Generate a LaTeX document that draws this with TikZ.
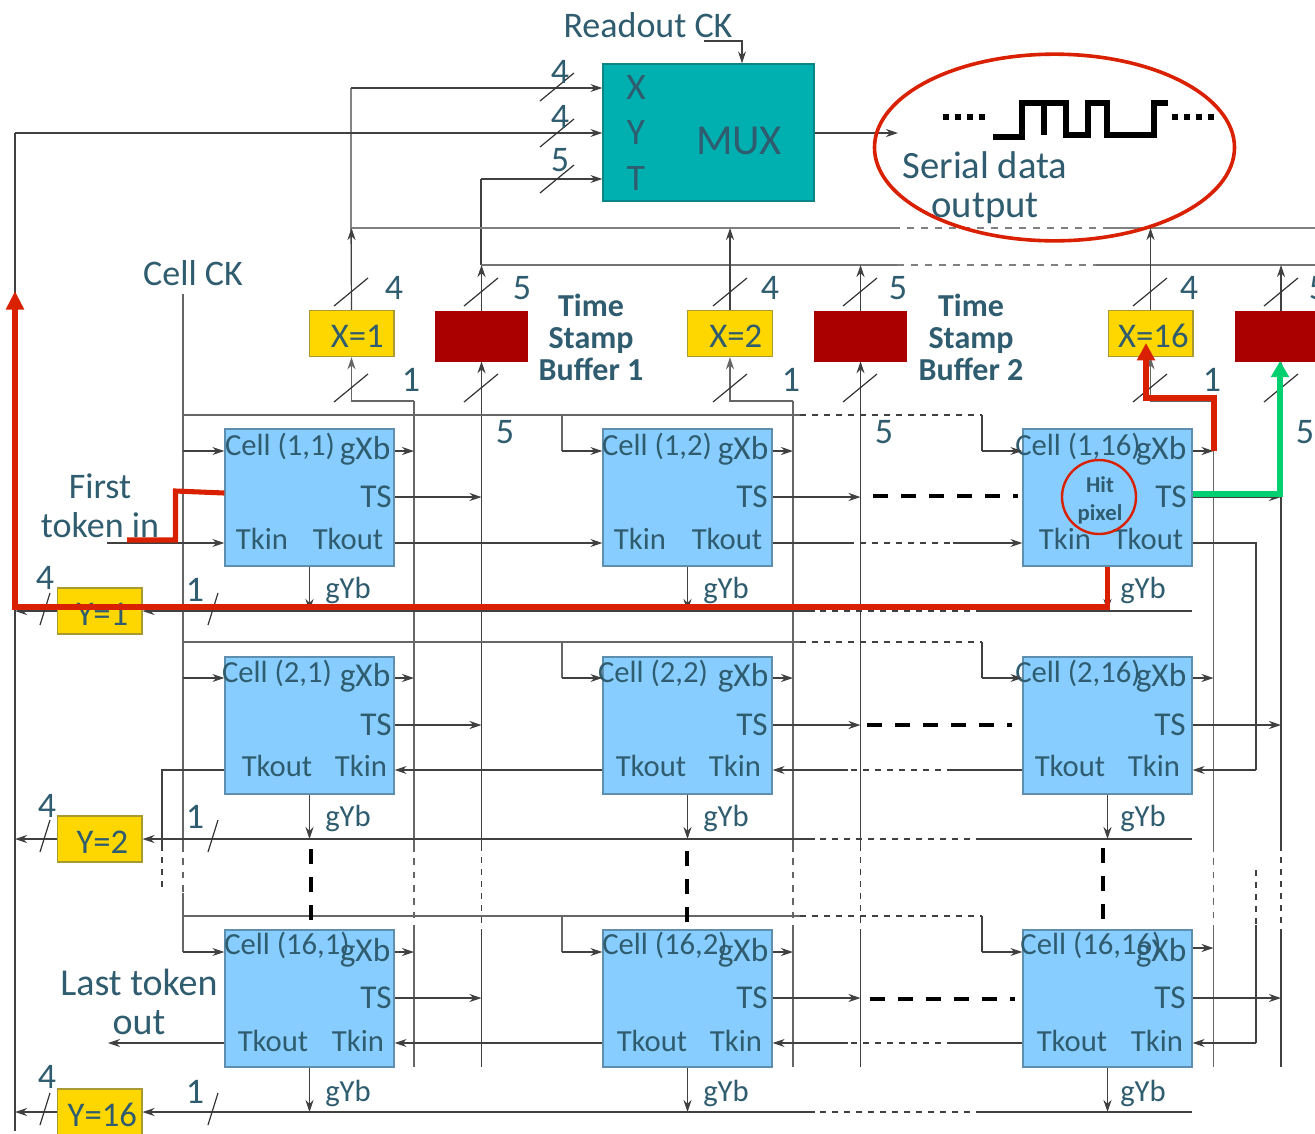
\documentclass[tikz,border=0pt]{standalone}
\usepackage{fontspec}
\setmainfont{Carlito}
\usepackage{xcolor}
\usetikzlibrary{arrows.meta,shapes.geometric}
\definecolor{inktxt}{HTML}{2F5C6E}
\definecolor{cellfill}{HTML}{87CDFF}
\definecolor{celledge}{HTML}{5F8FAE}
\definecolor{muxfill}{HTML}{00AFAF}
\definecolor{muxedge}{HTML}{0B8585}
\definecolor{goldfill}{HTML}{FFD700}
\definecolor{goldedge}{HTML}{A89A30}
\definecolor{buffill}{HTML}{AB0000}
\definecolor{hitred}{HTML}{D92000}
\definecolor{hitgreen}{HTML}{00D070}

\begin{document}
\begin{tikzpicture}[x=0.75pt,y=-0.75pt,
  lab/.style={font=\fontsize{23}{27}\selectfont,text=inktxt,inner sep=0pt},
  pin/.style={lab,font=\fontsize{25}{27}\selectfont},
  big/.style={lab,font=\fontsize{27}{29}\selectfont,align=center},
  num/.style={lab,font=\fontsize{27}{29}\selectfont},
  stamp/.style={lab,font=\fontsize{24}{24}\selectfont\bfseries,align=center},
  cell/.style={draw=celledge,fill=cellfill,line width=1pt,minimum width=126.75pt,minimum height=102.75pt,inner sep=0pt},
  xybox/.style={draw=goldedge,fill=goldfill,line width=1pt,minimum width=63.5pt,minimum height=34.5pt,inner sep=0pt,
              text=inktxt,font=\fontsize{26}{28}\selectfont,text height=21pt,text depth=0pt},
  bufbox/.style={draw=buffill,fill=buffill,minimum width=69pt,minimum height=37.5pt,inner sep=0pt},
  wire/.style={draw=black!75,line width=0.9pt},
  gwire/.style={draw=black!60,line width=1.4pt},
  bus/.style={draw=black!50,line width=1.9pt},
  gapw/.style={wire,dash pattern=on 4.5pt off 4.5pt},
  gapg/.style={gwire,dash pattern=on 5pt off 5pt},
  gapb/.style={bus,line width=1.6pt,dash pattern=on 5.5pt off 5pt},
  slash/.style={draw=black!80,line width=0.9pt},
  bdash/.style={draw=black,line width=3pt,dash pattern=on 11pt off 10pt},
  hitline/.style={draw=hitred,line width=3.8pt,line join=miter},
  >={Stealth[length=9pt,width=6pt]}]

\path[use as bounding box,clip] (0,0) rectangle (1315,1133);

% named levels and rails
\coordinate (ytop) at (15,133);   \coordinate (ybot) at (15,1131);
\coordinate (xbus) at (351,228);  \coordinate (tbus) at (481,265);
\coordinate (ckin) at (183,294);
\coordinate (ck1) at (183,415);   \coordinate (ck2) at (183,642);   \coordinate (ck3) at (183,916);
\coordinate (tap2) at (562,0);    \coordinate (tap3) at (982,0);
\coordinate (gapl) at (815,0);    \coordinate (gapr) at (982,0);
\coordinate (gapt) at (848,0);    \coordinate (gapu) at (953,0);
\coordinate (gx1) at (414,401);   \coordinate (gx2) at (793,401);   \coordinate (gx3) at (1213.5,401);
\coordinate (rtn) at (1256,0);
\coordinate (endr) at (1192,0);
\coordinate (tg1) at (0,451);     \coordinate (tg2) at (0,678);     \coordinate (tg3) at (0,952);
\coordinate (tt1) at (0,497);     \coordinate (tt2) at (0,725);     \coordinate (tt3) at (0,998);
\coordinate (tk1) at (0,543);     \coordinate (tk2) at (0,770);     \coordinate (tk3) at (0,1043);
\coordinate (vgap) at (0,845);    \coordinate (vgapb) at (0,930);

% wires to the mux
\node[draw=muxedge,fill=muxfill,line width=1pt,minimum width=158.25pt,minimum height=102.75pt] (mux) at (708.5,132.5) {};
\node[lab,font=\fontsize{28}{30}\selectfont] (mx) at (636,88) {X};
\node[lab,font=\fontsize{28}{30}\selectfont] (my) at (636,133) {Y};
\node[lab,font=\fontsize{28}{30}\selectfont] (mt) at (636,179) {T};
\node[lab,font=\fontsize{32}{34}\selectfont] (mname) at (739,141) {MUX};
\node[big,font=\fontsize{27}{29}\selectfont] (rock) at (648,25) {Readout CK};
\coordinate (rocka) at (704,41);
\coordinate (sout) at (898,133);
\draw[wire,->] (rocka) -| (mux.north -| 742,0);
\draw[wire,->] (mux.east |- sout) -- (sout);

\node[xybox] (x1) at (351.5,333.5) {\,\,X=1};
\node[xybox] (x2) at (730,333.5) {\,\,X=2};
\node[xybox] (x3) at (1150.5,333.5) {\,X=16};
\node[bufbox] (b1) at (481.5,336) {};
\node[bufbox] (b2) at (860.5,336) {};
\node[bufbox] (b3) at (1281,336) {};
\node[stamp] (tsb1) at (591,337) {Time\\Stamp\\Buffer 1};
\node[stamp] (tsb2) at (971,337) {Time\\Stamp\\Buffer 2};

\draw[wire] (x1.north) -- (xbus) -- (xbus |- mx);
\draw[wire,->] (xbus |- mx) -- (mux.west |- mx);
\draw[wire,->] (ytop) -- (mux.west |- ytop);
\draw[wire] (ytop) -- (ybot);
\draw[wire] (tbus) -- (tbus |- mt);
\draw[wire,->] (tbus |- mt) -- (mux.west |- mt);

% read-out buses
\draw[bus] (xbus) -- (893,228);
\draw[gapb] (893,228) -- (1103,228);
\draw[bus] (1103,228) -- (1315,228);
\draw[wire,line width=1.5pt,draw=black!55] (tbus) -- (897,265);
\draw[gapb] (897,265) -- (1096,265);
\draw[wire,line width=1.5pt,draw=black!55] (1096,265) -- (1315,265);
\draw[wire,->] (x1.north) -- (x1.north |- xbus);
\draw[wire,->] (b1.north) -- (b1.north |- tbus);
\draw[wire,->] (x2.north) -- (x2.north |- xbus);
\draw[wire,->] (b2.north) -- (b2.north |- tbus);
\draw[wire,->] (x3.north) -- (x3.north |- xbus);
\draw[wire,->] (b3.north) -- (b3.north |- tbus);

% column rails below the buffers
\draw[gwire,->] (gx1) -- (x1.south |- gx1) -- (x1.south);
\draw[gwire,->] (gx2) -- (x2.south |- gx2) -- (x2.south);
\draw[gwire,->] (gx3) -- (x3.south |- gx3) -- (x3.south);
\draw[wire,->] (b1.south |- vgap) -- (b1.south);
\draw[wire,->] (b2.south |- vgap) -- (b2.south);
\draw[wire,->] (b3.south |- vgap) -- (b3.south);
\draw[gwire] (gx1) -- (gx1 |- vgap);
\draw[gwire] (gx2) -- (gx2 |- vgap);
\draw[gwire] (gx3) -- (gx3 |- vgap);
\draw[gapg] (gx1 |- vgap) -- (gx1 |- vgapb);
\draw[gapg] (gx2 |- vgap) -- (gx2 |- vgapb);
\draw[gapg] (gx3 |- vgap) -- (gx3 |- vgapb);
\draw[gapw] (b1.south |- vgap) -- (b1.south |- vgapb);
\draw[gapw] (b2.south |- vgap) -- (b2.south |- vgapb);
\draw[gapw] (b3.south |- vgap) -- (b3.south |- vgapb);
\draw[gwire] (gx1 |- vgapb) -- (gx1 |- 0,1067);
\draw[gwire] (gx2 |- vgapb) -- (gx2 |- 0,1067);
\draw[gwire] (gx3 |- vgapb) -- (gx3 |- 0,1067);
\draw[wire] (b1.south |- vgapb) -- (b1.south |- 0,1067);
\draw[wire] (b2.south |- vgapb) -- (b2.south |- 0,1067);
\draw[wire] (b3.south |- vgapb) -- (b3.south |- 0,1067);

% cell clock
\draw[gwire] (ckin) -- (ckin |- vgap);
\draw[gapg] (ckin |- vgap) -- (ckin |- 0,893);
\draw[gwire] (ckin |- 0,893) -- (ckin |- tg3);
\draw[gwire] (ck1) -- (800,415);
\draw[gapw] (800,415) -- (tap3 |- ck1);
\draw[gwire] (ck2) -- (800,642);
\draw[gapw] (800,642) -- (tap3 |- ck2);
\draw[gwire] (ck3) -- (800,916);
\draw[gapw] (800,916) -- (tap3 |- ck3);
\draw[gwire] (tap2 |- ck1) -- (tap2 |- tg1);
\draw[gwire] (tap2 |- ck2) -- (tap2 |- tg2);
\draw[gwire] (tap2 |- ck3) -- (tap2 |- tg3);
\draw[wire] (tap3 |- ck1) -- (tap3 |- tg1);
\draw[wire] (tap3 |- ck2) -- (tap3 |- tg2);
\draw[wire] (tap3 |- ck3) -- (tap3 |- tg3);

% cells
\node[cell] (c11) at (309.5,497.5) {};
\node[cell] (c12) at (687.5,497.5) {};
\node[cell] (c1n) at (1107.5,497.5) {};
\node[cell] (c21) at (309.5,725.5) {};
\node[cell] (c22) at (687.5,725.5) {};
\node[cell] (c2n) at (1107.5,725.5) {};
\node[cell] (cn1) at (309.5,998.5) {};
\node[cell] (cn2) at (687.5,998.5) {};
\node[cell] (cnn) at (1107.5,998.5) {};

\node[lab] (l11) at (280,446) {Cell (1,1)}; \node[pin] (g11) at (365,451) {gXb}; \node[pin] (s11) at (376,497) {TS};
\node[lab] (i11) at (262,539) {Tkin}; \node[lab] (o11) at (348,539) {Tkout}; \node[lab] (y11) at (348,590) {gYb};
\node[lab] (l12) at (657,446) {Cell (1,2)}; \node[pin] (g12) at (743,451) {gXb}; \node[pin] (s12) at (752,497) {TS};
\node[lab] (i12) at (640,539) {Tkin}; \node[lab] (o12) at (727,539) {Tkout}; \node[lab] (y12) at (726,590) {gYb};
\node[lab] (l1n) at (1078,446) {Cell (1,16)}; \node[pin] (g1n) at (1161,451) {gXb}; \node[pin] (s1n) at (1171,497) {TS};
\node[lab] (i1n) at (1065,539) {Tkin}; \node[lab] (o1n) at (1148,539) {Tkout}; \node[lab] (y1n) at (1143,590) {gYb};

\node[lab] (l21) at (277,673) {Cell (2,1)}; \node[pin] (g21) at (365,678) {gXb}; \node[pin] (s21) at (376,725) {TS};
\node[lab] (o21) at (277,766) {Tkout}; \node[lab] (i21) at (361,766) {Tkin}; \node[lab] (y21) at (348,818) {gYb};
\node[lab] (l22) at (653,673) {Cell (2,2)}; \node[pin] (g22) at (743,678) {gXb}; \node[pin] (s22) at (752,725) {TS};
\node[lab] (o22) at (651,766) {Tkout}; \node[lab] (i22) at (735,766) {Tkin}; \node[lab] (y22) at (726,818) {gYb};
\node[lab] (l2n) at (1078,673) {Cell (2,16)}; \node[pin] (g2n) at (1161,678) {gXb}; \node[pin] (s2n) at (1170,725) {TS};
\node[lab] (o2n) at (1070,766) {Tkout}; \node[lab] (i2n) at (1154,766) {Tkin}; \node[lab] (y2n) at (1143,818) {gYb};

\node[lab] (ln1) at (287,945) {Cell (16,1)}; \node[pin] (gn1) at (365,953) {gXb}; \node[pin] (sn1) at (376,998) {TS};
\node[lab] (on1) at (273,1041) {Tkout}; \node[lab] (in1) at (358,1041) {Tkin}; \node[lab] (yn1) at (348,1093) {gYb};
\node[lab] (ln2) at (665,945) {Cell (16,2)}; \node[pin] (gn2) at (743,953) {gXb}; \node[pin] (sn2) at (752,998) {TS};
\node[lab] (on2) at (652,1041) {Tkout}; \node[lab] (in2) at (736,1041) {Tkin}; \node[lab] (yn2) at (726,1093) {gYb};
\node[lab] (lnn) at (1091,945) {Cell (16,16)}; \node[pin] (gnn) at (1161,953) {gXb}; \node[pin] (snn) at (1170,998) {TS};
\node[lab] (onn) at (1072,1041) {Tkout}; \node[lab] (inn) at (1157,1041) {Tkin}; \node[lab] (ynn) at (1143,1093) {gYb};

% clock taps into the cells
\draw[wire,->] (ckin |- tg1) -- (c11.west |- tg1);
\draw[wire,->] (ckin |- tg2) -- (c21.west |- tg2);
\draw[wire,->] (ckin |- tg3) -- (cn1.west |- tg3);
\draw[wire,->] (tap2 |- tg1) -- (c12.west |- tg1);
\draw[wire,->] (tap2 |- tg2) -- (c22.west |- tg2);
\draw[wire,->] (tap2 |- tg3) -- (cn2.west |- tg3);
\draw[wire,->] (tap3 |- tg1) -- (c1n.west |- tg1);
\draw[wire,->] (tap3 |- tg2) -- (c2n.west |- tg2);
\draw[wire,->] (tap3 |- tg3) -- (cnn.west |- tg3);

% gXb outputs
\draw[wire,->] (c11.east |- tg1) -- (gx1 |- tg1);
\draw[wire,->] (c21.east |- tg2) -- (gx1 |- tg2);
\draw[wire,->] (cn1.east |- tg3) -- (gx1 |- tg3);
\draw[wire,->] (c12.east |- tg1) -- (gx2 |- tg1);
\draw[wire,->] (c22.east |- tg2) -- (gx2 |- tg2);
\draw[wire,->] (cn2.east |- tg3) -- (gx2 |- tg3);
\draw[wire,->] (c1n.east |- tg1) -- (gx3 |- tg1);
\draw[wire,->] (c2n.east |- tg2) -- (gx3 |- tg2);
\draw[wire,->] (cnn.east |- 0,948) -- (gx3 |- 0,948);

% TS outputs
\draw[wire,->] (c11.east |- tt1) -- (b1.south |- tt1);
\draw[wire,->] (c21.east |- tt2) -- (b1.south |- tt2);
\draw[wire,->] (cn1.east |- tt3) -- (b1.south |- tt3);
\draw[wire,->] (c12.east |- tt1) -- (b2.south |- tt1);
\draw[wire,->] (c22.east |- tt2) -- (b2.south |- tt2);
\draw[wire,->] (cn2.east |- tt3) -- (b2.south |- tt3);
\draw[wire,->] (c1n.east |- tt1) -- (b3.south |- tt1);
\draw[wire,->] (c2n.east |- tt2) -- (b3.south |- tt2);
\draw[wire,->] (cnn.east |- tt3) -- (b3.south |- tt3);
\draw[bdash] (873,496) -- (1018,496);
\draw[bdash] (867,725) -- (1012,725);
\draw[bdash] (870,999) -- (1015,999);

% token chain
\coordinate (tokin) at (107,543);
\coordinate (tokout) at (108,1043);
\draw[wire,->] (tokin) -- (c11.west |- tokin);
\draw[wire,->] (c11.east |- tk1) -- (c12.west |- tk1);
\draw[wire] (c12.east |- tk1) -- (gapt |- tk1);
\draw[gapw] (gapt |- tk1) -- (gapu |- tk1);
\draw[wire,->] (gapu |- tk1) -- (c1n.west |- tk1);
\draw[wire] (c1n.east |- tk1) -- (rtn |- tk1) -- (rtn |- tk2);
\draw[wire,->] (rtn |- tk2) -- (c2n.east |- tk2);
\draw[wire] (c2n.west |- tk2) -- (gapu |- tk2);
\draw[gapw] (gapu |- tk2) -- (gapt |- tk2);
\draw[wire,->] (gapt |- tk2) -- (c22.east |- tk2);
\draw[wire,->] (c22.west |- tk2) -- (c21.east |- tk2);
\draw[wire] (c21.west |- tk2) -- (162,770) -- (162,845);
\draw[gapw] (162,845) -- (162,888);
\draw[gapw] (rtn |- 0,870) -- (rtn |- 0,925);
\draw[wire] (rtn |- 0,925) -- (rtn |- tk3);
\draw[wire,->] (rtn |- tk3) -- (cnn.east |- tk3);
\draw[wire] (cnn.west |- tk3) -- (gapu |- tk3);
\draw[gapw] (gapu |- tk3) -- (gapt |- tk3);
\draw[wire,->] (gapt |- tk3) -- (cn2.east |- tk3);
\draw[wire,->] (cn2.west |- tk3) -- (cn1.east |- tk3);
\draw[wire,->] (cn1.west |- tk3) -- (tokout);

% Y address boxes and row lines
\node[xybox] (y1) at (99.5,611) {\,Y=1};
\node[xybox] (y2) at (99.5,839) {\,Y=2};
\node[xybox] (y3) at (99.5,1112) {\,Y=16};
\draw[wire] (endr |- y1.east) -- (gapr |- y1.east);
\draw[gapw] (gapr |- y1.east) -- (gapl |- y1.east);
\draw[wire,->] (gapl |- y1.east) -- (y1.east);
\draw[wire] (endr |- y2.east) -- (gapr |- y2.east);
\draw[gapw] (gapr |- y2.east) -- (gapl |- y2.east);
\draw[wire,->] (gapl |- y2.east) -- (y2.east);
\draw[wire] (endr |- y3.east) -- (gapr |- y3.east);
\draw[gapw] (gapr |- y3.east) -- (gapl |- y3.east);
\draw[wire,->] (gapl |- y3.east) -- (y3.east);
\draw[wire,->] (y1.west) -- (ytop |- y1.west);
\draw[wire,->] (y2.west) -- (ytop |- y2.west);
\draw[wire,->] (y3.west) -- (ytop |- y3.west);
\draw[wire,->] (c11.south) -- (c11.south |- y1.east);
\draw[wire,->] (c12.south) -- (c12.south |- y1.east);
\draw[wire,->] (c1n.south) -- (c1n.south |- y1.east);
\draw[wire,->] (c21.south) -- (c21.south |- y2.east);
\draw[wire,->] (c22.south) -- (c22.south |- y2.east);
\draw[wire,->] (c2n.south) -- (c2n.south |- y2.east);
\draw[wire,->] (cn1.south) -- (cn1.south |- y3.east);
\draw[wire,->] (cn2.south) -- (cn2.south |- y3.east);
\draw[wire,->] (cnn.south) -- (cnn.south |- y3.east);
\draw[bdash] (311,849) -- (311,921);
\draw[bdash] (687,851) -- (687,922);
\draw[bdash] (1103,848) -- (1103,920);

% bus width marks
\draw[slash] (557,87) +(-17,14) -- +(17,-14) (557,133) +(-17,14) -- +(17,-14) (557,179) +(-17,14) -- +(17,-14)
  (351,292) +(-17,14) -- +(17,-14) (481,292) +(-17,14) -- +(17,-14) (730,292) +(-17,14) -- +(17,-14)
  (860,292) +(-17,14) -- +(17,-14) (1150,292) +(-17,14) -- +(17,-14) (1281,292) +(-17,14) -- +(17,-14)
  (351,388) +(-17,14) -- +(17,-14) (481,388) +(-17,14) -- +(17,-14) (730,388) +(-17,14) -- +(17,-14)
  (860,388) +(-17,14) -- +(17,-14) (1150,388) +(-17,14) -- +(17,-14) (1281,388) +(-17,14) -- +(17,-14)
  (45,609) +(-5,16) -- +(5,-16) (213,609) +(-5,16) -- +(5,-16)
  (45,836) +(-5,16) -- +(5,-16) (213,836) +(-5,16) -- +(5,-16)
  (45,1109) +(-5,16) -- +(5,-16) (213,1109) +(-5,16) -- +(5,-16);

\node[num] (n1) at (560,72) {4};   \node[num] (n2) at (560,117) {4};  \node[num] (n3) at (560,160) {5};
\node[num] (n4) at (394,288) {4};  \node[num] (n5) at (522,288) {5};  \node[num] (n6) at (770,288) {4};
\node[num] (n7) at (898,288) {5};  \node[num] (n8) at (1189,288) {4}; \node[num] (n9) at (1318,288) {5};
\node[num] (n10) at (411,380) {1}; \node[num] (n11) at (791,380) {1}; \node[num] (n12) at (1212,380) {1};
\node[num] (n13) at (505,432) {5}; \node[num] (n14) at (884,432) {5}; \node[num] (n15) at (1305,432) {5};
\node[num] (n16) at (45,578) {4};  \node[num] (n17) at (195,590) {1};
\node[num] (n18) at (47,806) {4};  \node[num] (n19) at (195,817) {1};
\node[num] (n20) at (47,1077) {4}; \node[num] (n21) at (195,1092) {1};

\node[big] (cellck) at (193,273) {Cell CK};
\node[big] (first) at (100,506) {First\\token in};
\node[big,font=\fontsize{28.5}{29}\selectfont] (last) at (139,1002) {Last token\\out};

% serial output
\node[ellipse,draw=hitred,line width=2.7pt,minimum width=270pt,minimum height=140pt,inner sep=0pt] (outring) at (1054.5,147.5) {};
\node[big,font=\fontsize{29}{29}\selectfont] (serial) at (985,188) {Serial data\\output};
\draw[black,line width=4pt,dash pattern=on 4.5pt off 4.5pt] (943,117) -- (986,117);
\draw[black,line width=4pt,dash pattern=on 4.5pt off 4.5pt] (1172,117) -- (1215,117);
\draw[black,line width=4pt,line join=miter] (993,137) -- (1022,137) -- (1022,103) -- (1066,103) -- (1066,135) -- (1088,135)
  -- (1088,103) -- (1107,103) -- (1107,135) -- (1154,135) -- (1154,103) -- (1168,103);
\draw[black,line width=4pt] (1044,103) -- (1044,135);

% hit path
\node[circle,draw=hitred,line width=1.8pt,minimum size=55.5pt,inner sep=0pt] (hit) at (1099,497) {};
\node[lab,align=center,font=\fontsize{17}{21}\selectfont\bfseries] (hittxt) at (1100,500) {Hit\\pixel};
\coordinate (redy) at (0,607);
\coordinate (redtop) at (15,291);
\coordinate (redx) at (1146,343);
\coordinate (redst) at (127,540);
\draw[hitline,-{Triangle[length=14pt,width=13pt]}] (c1n.south) -- (c1n.south |- redy) -- (ytop |- redy) -- (redtop);
\draw[hitline] (redst) -- (175.5,540) -- (175.5,491) -- (c11.west |- 0,493);
\draw[hitline,-{Triangle[length=13pt,width=13pt]}] (1214,451) -- (1214,398) -- (1146,398) -- (redx);
\draw[hitline,draw=hitgreen,-{Triangle[length=12pt,width=13pt]}] (c1n.east |- 0,494) -- (1280,494) -- (1280,361);
\end{tikzpicture}
\end{document}
